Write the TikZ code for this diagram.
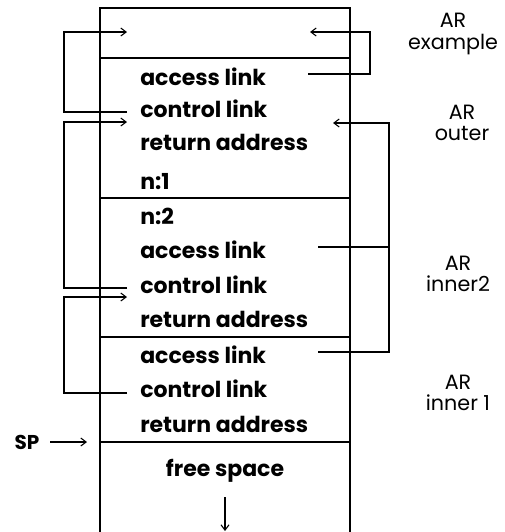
\documentclass[tikz,border=0pt]{standalone}
\usepackage{fontspec}
\setmainfont{Poppins}
\usetikzlibrary{arrows.meta}
\begin{document}
\begin{tikzpicture}[x=0.75pt,y=-0.75pt,
  frame/.style={line width=2.2pt},
  sep/.style={line width=1.1pt},
  link/.style={line width=0.8pt,-{Straight Barb[length=4pt,width=6pt]}},
  wire/.style={line width=0.8pt},
  slot/.style={anchor=west,inner sep=0pt,font=\fontsize{16.5}{18}\selectfont\bfseries},
  arlabel/.style={align=center,inner sep=0pt,font=\fontsize{15.5}{16}\selectfont}]
\useasboundingbox (0,0) rectangle (504,532);

% stack frame outline and separators
\draw[frame] (100,532) -- (100,8) -- (350,8) -- (350,532);
\draw[sep] (100,58) -- (350,58);
\draw[sep] (100,198) -- (350,198);
\draw[sep] (100,337) -- (350,337);
\draw[sep] (100,442) -- (350,442);

% slots of AR outer
\node[slot] (accO) at (140,77) {access link};
\node[slot] (ctlO) at (140,109) {control link};
\node[slot] (retO) at (140,142) {return address};
\node[slot] (n1) at (140,182) {n:1};
% slots of AR inner2
\node[slot] (n2) at (140,216) {n:2};
\node[slot] (accA) at (140,250) {access link};
\node[slot] (ctlA) at (140,285) {control link};
\node[slot] (retA) at (140,319) {return address};
% slots of AR inner 1
\node[slot] (accB) at (140,355) {access link};
\node[slot] (ctlB) at (140,389) {control link};
\node[slot] (retB) at (140,424) {return address};
% free space below SP
\node[slot,anchor=center] (free) at (225,471) {free space};

% frame labels
\node[arlabel] (lex) at (453,34) {AR\\example};
\node[arlabel] (lout) at (462,123) {AR\\outer};
\node[arlabel] (lin2) at (458,274) {AR\\inner2};
\node[arlabel] (lin1) at (458,393) {AR\\inner 1};
\node[inner sep=0pt,font=\fontsize{15}{16}\selectfont\bfseries] (sp) at (27,442) {SP};

% link end points
\coordinate (exL) at (127,32);
\coordinate (exR) at (310,32);
\coordinate (ctlOin) at (127,122);
\coordinate (ctlOr) at (333,123);
\coordinate (ctlAin) at (127,297);
\coordinate (ctlOout) at (127,112);
\coordinate (ctlAout) at (127,288);
\coordinate (ctlBout) at (127,393);
\coordinate (accOout) at (308,74);
\coordinate (accAout) at (318,247);
\coordinate (accBout) at (318,352);
\coordinate (spTail) at (50,442);
\coordinate (spTip) at (87,442);
\coordinate (growTail) at (225,497);
\coordinate (growTip) at (225,531);

% control links
\draw[link] (ctlOout) -| (64,32) -- (exL);
\draw[link] (ctlAout) -| (64,122) -- (ctlOin);
\draw[link] (ctlBout) -| (64,297) -- (ctlAin);

% access links
\draw[link] (accOout) -| (370,32) -- (exR);
\draw[wire] (accAout) -- (389,247);
\draw[link] (accBout) -| (389,123) -- (ctlOr);

% stack pointer and growth direction
\draw[link] (spTail) -- (spTip);
\draw[link] (growTail) -- (growTip);
\end{tikzpicture}
\end{document}
